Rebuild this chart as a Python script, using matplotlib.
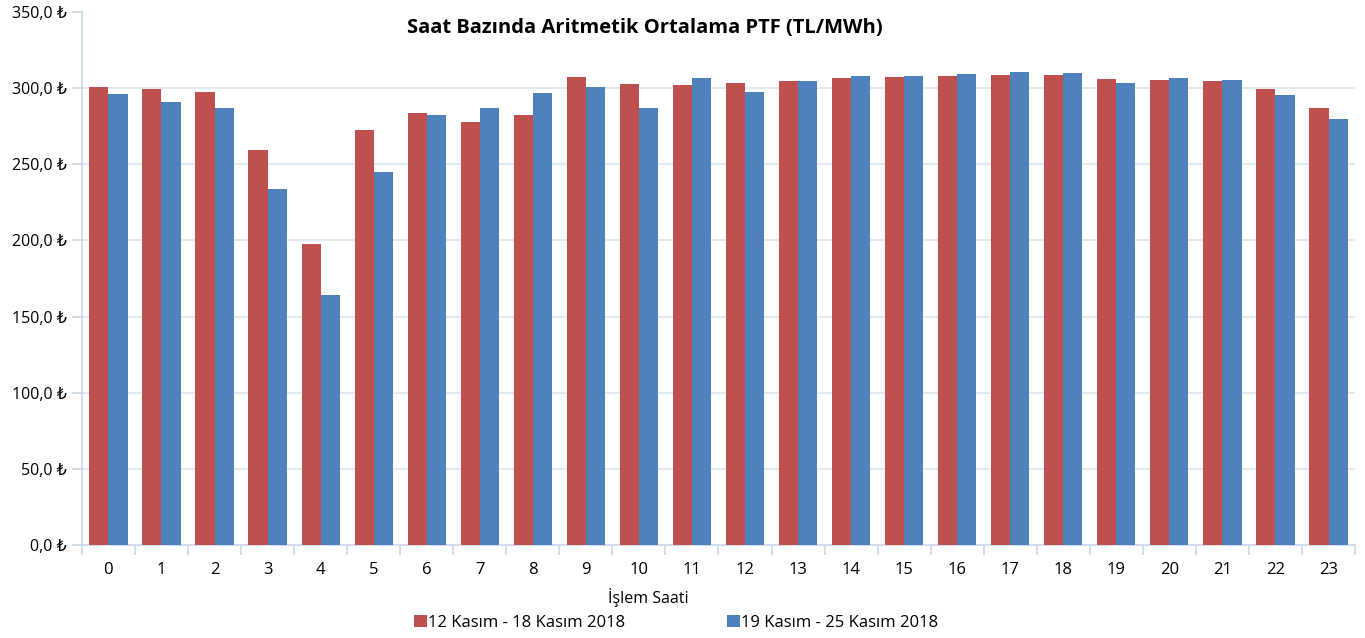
import numpy as np
import matplotlib
matplotlib.use('Agg')
import matplotlib.pyplot as plt
from matplotlib.ticker import FuncFormatter, MultipleLocator

plt.rcParams['font.family'] = ['Open Sans', 'DejaVu Sans']

hours = list(range(24))
week1_label = '12 Kasım - 18 Kasım 2018'
week2_label = '19 Kasım - 25 Kasım 2018'
week1 = [300.7, 299.4, 297.4, 259.4, 197.6, 272.5, 283.7, 277.7, 282.3, 307.5,
         302.7, 302.0, 303.1, 304.9, 306.4, 307.1, 308.1, 308.4, 308.8, 306.2,
         305.1, 304.4, 299.4, 286.7]
week2 = [296.1, 290.9, 286.9, 233.7, 164.2, 244.9, 282.3, 286.9, 296.8, 300.9,
         287.1, 306.4, 297.4, 305.0, 307.7, 307.9, 309.2, 310.8, 310.1, 303.3,
         306.4, 305.1, 295.3, 279.9]

red = '#C0504D'
blue = '#4F81BD'
axis_col = '#C9D6E8'
grid_col = '#DCE5F0'

fig = plt.figure(figsize=(13.65, 6.38), dpi=100)
ax = fig.add_axes([0.060, 0.1458, 0.9327, 0.8354])

x = np.arange(len(hours))
w = 0.36
ax.bar(x - w/2, week1, width=w, color=red, label=week1_label, zorder=3)
ax.bar(x + w/2, week2, width=w, color=blue, label=week2_label, zorder=3)

ax.set_xlim(-0.5, 23.5)
ax.set_ylim(0, 350)
ax.yaxis.set_major_locator(MultipleLocator(50))
ax.yaxis.set_major_formatter(FuncFormatter(lambda v, p: ('%.1f' % v).replace('.', ',') + ' ₺'))
ax.set_xticks(x)
ax.set_xticklabels([str(h) for h in hours])
ax.set_xticks(np.arange(-0.5, 24, 1), minor=True)
ax.tick_params(axis='x', which='major', length=0, pad=12, labelsize=12)
ax.tick_params(axis='x', which='minor', length=7, color=axis_col, width=1.2)
ax.tick_params(axis='y', length=7, color=axis_col, width=1.2, labelsize=11.5, pad=4)

for s in ['top', 'right']:
    ax.spines[s].set_visible(False)
for s in ['left', 'bottom']:
    ax.spines[s].set_color(axis_col)
    ax.spines[s].set_linewidth(1.2)

for v in range(50, 350, 50):
    ax.axhline(v, color=grid_col, lw=1.2, zorder=1)

ax.set_xlabel('İşlem Saati', fontsize=11.5)
ax.xaxis.set_label_coords(0.445, -0.08)
ax.text(0.442, 0.970, 'Saat Bazında Aritmetik Ortalama PTF (TL/MWh)', transform=ax.transAxes,
        ha='center', va='center', fontsize=14.5, fontweight='bold')

fig.legend(loc='lower center', bbox_to_anchor=(0.4955, -0.012), ncol=2, frameon=False,
           fontsize=12, handlelength=0.75, handleheight=0.75, handletextpad=0.1,
           columnspacing=6.1)

fig.savefig('out.png', dpi=100)
